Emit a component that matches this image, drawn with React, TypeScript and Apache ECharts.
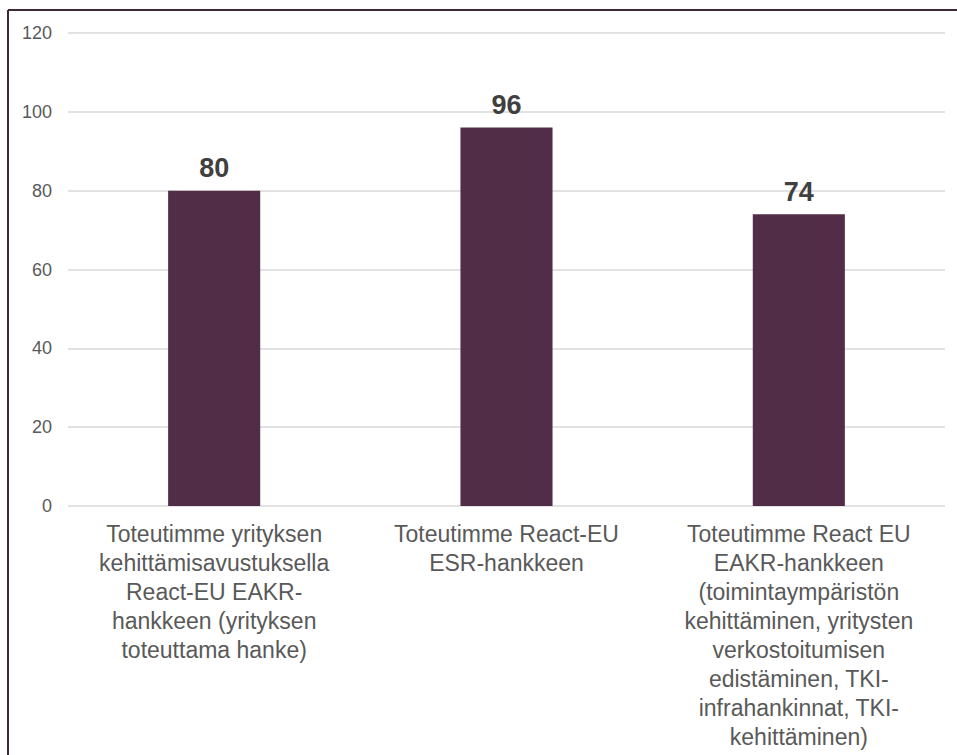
import React, { useEffect, useRef } from "react";
import * as echarts from "echarts";

const categories: string[] = [
  "Toteutimme yrityksen\nkehittämisavustuksella\nReact-EU EAKR-\nhankkeen (yrityksen\ntoteuttama hanke)",
  "Toteutimme React-EU\nESR-hankkeen",
  "Toteutimme React EU\nEAKR-hankkeen\n(toimintaympäristön\nkehittäminen, yritysten\nverkostoitumisen\nedistäminen, TKI-\ninfrahankinnat, TKI-\nkehittäminen)",
];
const values: number[] = [80, 96, 74];
const yTicks = { min: 0, max: 120, interval: 20 };

export default function App() {
  const ref = useRef<HTMLDivElement>(null);
  useEffect(() => {
    if (!ref.current) return;
    const chart = echarts.init(ref.current, null, { renderer: "svg" });
    chart.setOption({
      animation: false,
      backgroundColor: "#ffffff",
      textStyle: { fontFamily: "Liberation Sans, Arial, sans-serif" },
      grid: { left: 68, right: 12, top: 33, bottom: 249, containLabel: false },
      graphic: [
        {
          type: "line",
          shape: { x1: 8, y1: 10, x2: 960, y2: 10 },
          style: { stroke: "#3d2838", lineWidth: 2 },
        },
        {
          type: "line",
          shape: { x1: 8, y1: 10, x2: 8, y2: 760 },
          style: { stroke: "#3d2838", lineWidth: 2 },
        },
      ],
      xAxis: {
        type: "category",
        data: categories,
        axisLine: { show: false },
        axisTick: { show: false },
        axisLabel: {
          interval: 0,
          margin: 13,
          color: "#595959",
          fontSize: 23,
          lineHeight: 29,
          align: "center",
          fontFamily: "Liberation Sans, Arial, sans-serif",
        },
      },
      yAxis: {
        type: "value",
        min: yTicks.min,
        max: yTicks.max,
        interval: yTicks.interval,
        axisLine: { show: false },
        axisTick: { show: false },
        axisLabel: {
          margin: 16,
          color: "#595959",
          fontSize: 18,
          fontFamily: "Liberation Sans, Arial, sans-serif",
        },
        splitLine: { lineStyle: { color: "#d9d9d9", width: 1.5 } },
      },
      series: [
        {
          type: "bar",
          data: values,
          barWidth: "31.5%",
          itemStyle: { color: "#512d47" },
          label: {
            show: true,
            position: "top",
            distance: 9,
            color: "#404040",
            fontSize: 27,
            fontWeight: "bold",
            fontFamily: "Liberation Sans, Arial, sans-serif",
          },
        },
      ],
    });
    return () => chart.dispose();
  }, []);
  return (
    <div
      ref={ref}
      style={{ position: "absolute", left: 0, top: 0, width: 957, height: 755 }}
    />
  );
}
